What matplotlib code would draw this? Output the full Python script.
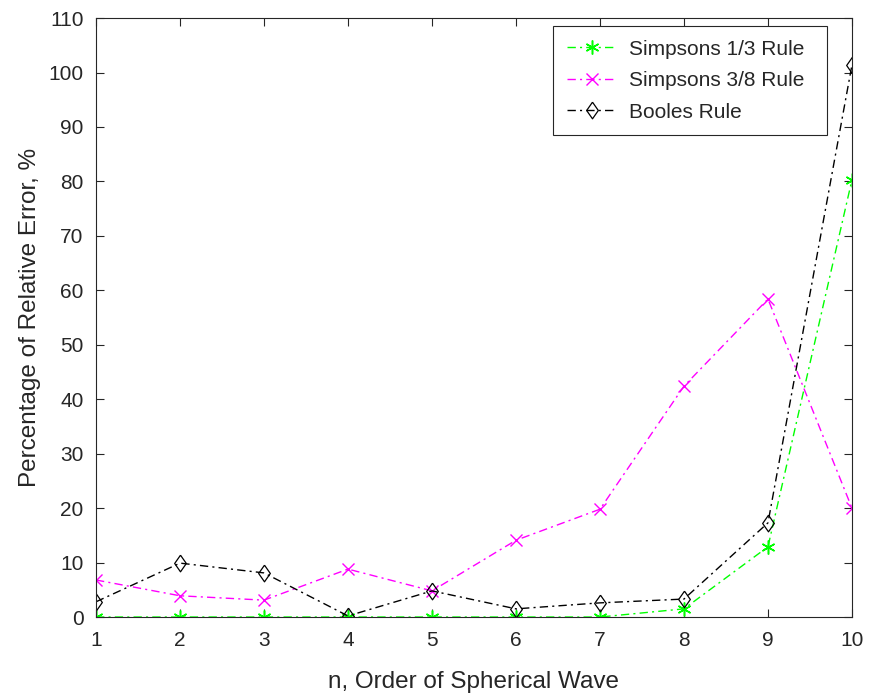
import matplotlib
matplotlib.use('Agg')
import matplotlib.pyplot as plt

# data
n = [1, 2, 3, 4, 5, 6, 7, 8, 9, 10]
simpson13 = [0.0, 0.0, 0.0, 0.0, 0.0, 0.0, 0.0, 1.5, 12.9, 80.3]
simpson38 = [6.8, 3.9, 3.1, 8.8, 4.8, 14.1, 19.8, 42.4, 58.4, 20.0]
booles = [2.8, 9.9, 8.1, 0.2, 4.8, 1.5, 2.6, 3.3, 17.3, 101.4]

yticks = list(range(0, 111, 10))

plt.rcParams['font.family'] = ['Liberation Sans', 'DejaVu Sans']

fig = plt.figure(figsize=(8.69, 6.95), dpi=100)
ax = fig.add_axes([0.1105, 0.1122, 0.8699, 0.8618])

# MATLAB-like diamond, a bit wider than matplotlib's 'd'
diamond = [(0, 1), (0.7, 0), (0, -1), (-0.7, 0), (0, 1)]
dash = (6, 3, 1.5, 3)
ax.plot(n, simpson13, color=(0, 1, 0), marker=(6, 2, 0), markersize=10,
        linewidth=1, dashes=dash, markeredgewidth=1.1, label='Simpsons 1/3 Rule')
ax.plot(n, simpson38, color=(1, 0, 1), marker='x', markersize=9,
        linewidth=1, dashes=dash, markeredgewidth=1, label='Simpsons 3/8 Rule')
ax.plot(n, booles, color='black', marker=diamond, markersize=12,
        markerfacecolor='none', linewidth=1, dashes=dash,
        markeredgewidth=0.9, label='Booles Rule')

ax.set_xlim(1, 10)
ax.set_ylim(0, 110)
ax.set_xticks(n)
ax.set_yticks(yticks)

axis_col = '#262626'
for s in ax.spines.values():
    s.set_color(axis_col)
    s.set_linewidth(0.8)
ax.tick_params(direction='in', top=True, right=True, length=6, width=0.8,
               colors=axis_col, labelsize=15)
ax.tick_params(axis='y', pad=9)
ax.tick_params(axis='x', pad=10)

ax.set_xlabel('n, Order of Spherical Wave', fontsize=17.5, color=axis_col,
              labelpad=15)
ax.set_ylabel('Percentage of Relative Error, %', fontsize=17.5,
              color=axis_col, labelpad=5)

# legend box stretched to MATLAB's width; extra space ends up on the right
leg = ax.legend(loc='upper left', bbox_to_anchor=(0.6045, 0, 0.3625, 0.9866),
                mode='expand', borderaxespad=0, fontsize=15, frameon=True,
                fancybox=False, edgecolor=axis_col, framealpha=1,
                handlelength=2.4, handletextpad=0.6, labelspacing=0.6,
                borderpad=0.65)
leg.get_frame().set_linewidth(0.8)
for t in leg.get_texts():
    t.set_color(axis_col)

plt.savefig('out.png', dpi=100)
plt.close()
